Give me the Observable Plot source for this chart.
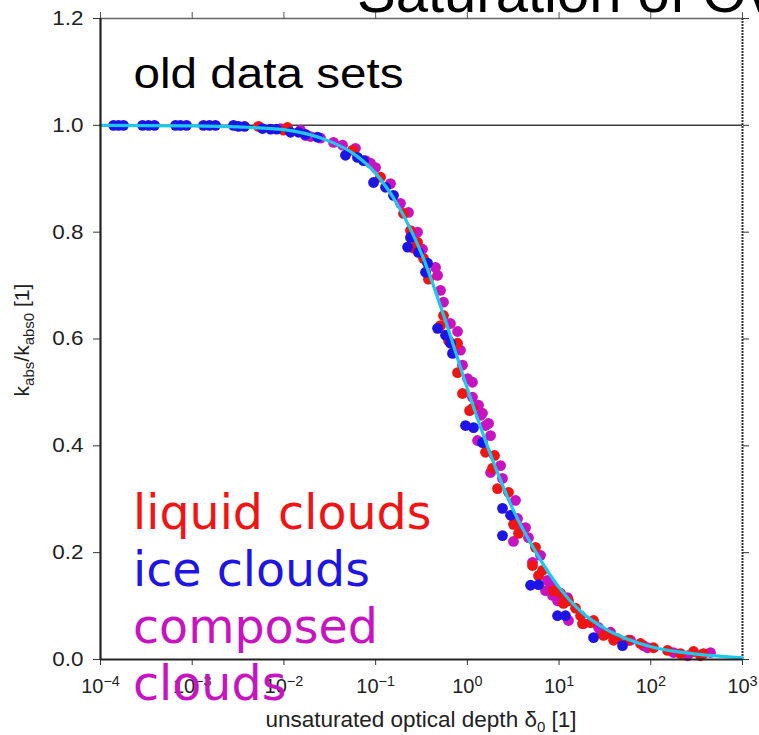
<!DOCTYPE html>
<html>
<head>
<meta charset="utf-8">
<script src="https://cdn.jsdelivr.net/npm/d3@7"></script>
<script src="https://cdn.jsdelivr.net/npm/@observablehq/plot@0.6"></script>
<style>
  body { margin: 0; background: #fff; }
  #chart { width: 759px; height: 735px; overflow: hidden; position: relative; }
  #chart svg { overflow: visible; }
</style>
</head>
<body>
<div id="chart"></div>
<script>
// Optical depths are kept as log10(δ0); ratios are k_abs / k_abs0.
const liquidLogDepth = [-2.277, -2.005, -1.961, -1.252, -0.947, -0.696, -0.620, -0.587, -0.543, -0.478,
  -0.424, -0.260, -0.293, -0.205, -0.107, -0.107, -0.053, 0.024, 0.198, 0.296,
  0.274, 0.329, 0.449, 0.503, 0.558, 0.743, 0.710, 0.820, 0.939, 1.016,
  1.103, 1.179, 1.234, 1.256, 1.343, 1.485, 1.637, 1.757, 1.888, 2.030,
  2.183, 2.324, 2.466, 2.542, 2.575, 0.056, 0.776, 1.528, 1.376, 1.048,
  1.594];
const liquidRatio = [0.998, 0.991, 0.996, 0.953, 0.903, 0.835, 0.803, 0.770, 0.781, 0.751,
  0.712, 0.644, 0.625, 0.597, 0.592, 0.537, 0.498, 0.466, 0.388, 0.382,
  0.358, 0.320, 0.313, 0.253, 0.236, 0.210, 0.176, 0.167, 0.129, 0.124,
  0.110, 0.096, 0.082, 0.067, 0.069, 0.045, 0.039, 0.036, 0.030, 0.022,
  0.017, 0.011, 0.015, 0.007, 0.011, 0.470, 0.157, 0.049, 0.073, 0.105,
  0.036];

const iceLogDepth = [-3.858, -3.804, -3.749, -3.542, -3.477, -3.411, -3.182, -3.128, -3.062, -2.877,
  -2.811, -2.746, -2.550, -2.495, -2.430, -2.234, -2.146, -2.081, -1.928, -1.841,
  -1.634, -1.329, -1.198, -1.132, -1.023, -0.892, -0.805, -0.652, -0.620, -0.533,
  -0.434, -0.456, -0.325, -0.238, -0.184, -0.162, -0.020, 0.067, 0.165, 0.383,
  0.471, 0.383, 0.689, 0.776, 0.983, 1.070, 1.376, 1.692, -1.765];
const iceRatio = [1.000, 1.000, 1.000, 1.000, 1.000, 1.000, 1.000, 1.000, 1.000, 1.000,
  1.000, 1.000, 1.000, 0.998, 0.998, 0.994, 0.993, 0.993, 0.987, 0.987,
  0.978, 0.944, 0.940, 0.934, 0.893, 0.884, 0.869, 0.772, 0.790, 0.762,
  0.742, 0.725, 0.620, 0.607, 0.592, 0.573, 0.438, 0.434, 0.406, 0.283,
  0.270, 0.232, 0.139, 0.140, 0.082, 0.082, 0.041, 0.026, 0.983];

const composedLogDepth = [-2.037, -1.819, -1.765, -1.601, -1.459, -1.361, -1.220, -1.056, -1.001, -0.838,
  -0.729, -0.642, -0.543, -0.489, -0.347, -0.325, -0.293, -0.260, -0.184, -0.107,
  -0.075, -0.053, 0.002, 0.056, 0.056, 0.122, 0.143, 0.198, 0.111, 0.231,
  0.253, 0.362, 0.253, 0.383, 0.525, 0.547, 0.580, 0.503, 0.667, 0.798,
  0.710, 0.874, 0.907, 0.852, 0.929, 0.983, 1.092, 1.103, 1.267, 1.430,
  1.561, 1.779, 1.921, 1.964, 2.248, 2.401, 2.651, 0.634, 0.165, 1.452,
  0.939, -1.110, -1.710];
const composedRatio = [0.994, 0.991, 0.981, 0.976, 0.968, 0.963, 0.957, 0.929, 0.921, 0.891,
  0.854, 0.837, 0.800, 0.768, 0.734, 0.719, 0.691, 0.669, 0.629, 0.614,
  0.579, 0.551, 0.526, 0.519, 0.491, 0.476, 0.457, 0.438, 0.410, 0.442,
  0.419, 0.363, 0.350, 0.339, 0.298, 0.264, 0.247, 0.221, 0.228, 0.195,
  0.182, 0.148, 0.142, 0.129, 0.120, 0.110, 0.116, 0.073, 0.067, 0.060,
  0.051, 0.036, 0.026, 0.022, 0.013, 0.007, 0.013, 0.247, 0.461, 0.054,
  0.124, 0.934, 0.979];

// Fitted saturation curve
const fitLogDepth = [-4.0, -3.0, -2.5, -2.0, -1.75, -1.5, -1.25, -1.0, -0.75, -0.5,
  -0.25, 0.0, 0.25, 0.5, 0.75, 1.0, 1.25, 1.5, 1.75, 2.0,
  2.5, 3.0];
const fitRatio = [1.000, 0.999, 0.997, 0.992, 0.984, 0.970, 0.948, 0.910, 0.848, 0.760,
  0.640, 0.507, 0.385, 0.280, 0.200, 0.135, 0.088, 0.058, 0.038, 0.024,
  0.010, 0.003];

const xTickExponents = [-4, -3, -2, -1, 0, 1, 2, 3];
const yTicks = [0, 0.2, 0.4, 0.6, 0.8, 1.0, 1.2];
const legendLabels = ["liquid clouds", "ice clouds", "composed", "clouds"];

const rows = (logs, vals) => logs.map((l, i) => ({depth: Math.pow(10, l), ratio: vals[i]}));
const liquid = rows(liquidLogDepth, liquidRatio);
const ice = rows(iceLogDepth, iceRatio);
const composed = rows(composedLogDepth, composedRatio);
const fit = rows(fitLogDepth, fitRatio);
const xTicks = xTickExponents.map(e => Math.pow(10, e));
const expOf = d => Math.round(Math.log10(d));

const RED = "#f01414", BLUE = "#1e14e6", MAGENTA = "#c814c0", CYAN = "#1ec8ec";
const SANS = "'Liberation Sans', Arial, sans-serif";

const chart = Plot.plot({
  width: 759,
  height: 735,
  marginTop: 18,
  marginRight: 17,
  marginBottom: 76,
  marginLeft: 100,
  style: {background: "#fff", fontFamily: SANS, fontSize: "19px", color: "#222"},
  x: {type: "log", domain: [1e-4, 1e3]},
  y: {domain: [0, 1.2]},
  marks: [
    Plot.ruleY([1.2], {stroke: "#666", strokeWidth: 1.5}),
    Plot.ruleY([1], {stroke: "#3c3c3c", strokeWidth: 1.5}),
    Plot.ruleX([1e3], {stroke: "#333", strokeWidth: 2, strokeDasharray: "2 1"}),
    Plot.dot(composed, {x: "depth", y: "ratio", r: 5.4, fill: MAGENTA}),
    Plot.dot(liquid, {x: "depth", y: "ratio", r: 5.4, fill: RED}),
    Plot.dot(ice, {x: "depth", y: "ratio", r: 5.4, fill: BLUE}),
    Plot.line(fit, {x: "depth", y: "ratio", stroke: CYAN, strokeWidth: 3.2, curve: "monotone-x"}),
    Plot.axisY(yTicks, {tickSize: 7, tickPadding: 10, tickFormat: d3.format(".1f"), label: null, stroke: "#333", fontSize: 20}),
    Plot.axisY(yTicks, {anchor: "right", tickSize: 6, tickFormat: () => "", label: null, stroke: "#333"}),
    Plot.axisX(xTicks, {tickSize: 6, tickPadding: 13, tickFormat: d => "10^" + expOf(d), label: null, stroke: "#333", fontSize: 20}),
    Plot.axisX(xTicks, {anchor: "top", tickSize: 7, tickFormat: () => "", label: null, stroke: "#555"}),
    Plot.ruleX([1e-4], {stroke: "#222", strokeWidth: 2.2}),
    Plot.ruleY([0], {stroke: "#222", strokeWidth: 2.2}),
    Plot.text(["old data sets"], {frameAnchor: "top-left", dx: 33, dy: 69, lineAnchor: "bottom", textAnchor: "start",
      fontSize: 42, fill: "#000", fontFamily: SANS})
  ]
});

document.getElementById("chart").append(chart);

const svg = d3.select(chart.tagName.toLowerCase() === "svg" ? chart : chart.querySelector("svg"));

// Wider set type for the annotation and the y tick labels
svg.selectAll("g[aria-label='text'] text").each(function () {
  if (this.textContent === "old data sets") {
    this.setAttribute("textLength", 270);
    this.setAttribute("lengthAdjust", "spacingAndGlyphs");
  }
});
svg.selectAll("g[aria-label='y-axis tick label'] text").each(function () {
  const w = this.getComputedTextLength();
  if (w > 0) {
    this.setAttribute("textLength", (w * 1.12).toFixed(1));
    this.setAttribute("lengthAdjust", "spacingAndGlyphs");
  }
});

// Power-of-ten tick labels with raised exponents
svg.selectAll("g[aria-label='x-axis tick label'] text").each(function () {
  const parts = this.textContent.split("^");
  if (parts.length < 2) return;
  const t = d3.select(this).text("");
  t.append("tspan").text("10");
  t.append("tspan").attr("dy", "-0.45em").attr("font-size", "0.72em").text(parts[1].replace("-", "\u2212"));
});

// Title across the top
svg.append("text")
  .attr("x", 357).attr("y", 12)
  .attr("text-anchor", "start")
  .attr("font-family", SANS)
  .attr("font-size", 58).attr("fill", "#000")
  .text("Saturation of Ov");

// y-axis label with subscripts
const yl = svg.append("text")
  .attr("transform", "translate(29,340) rotate(-90)")
  .attr("text-anchor", "middle")
  .attr("font-family", SANS)
  .attr("font-size", 21).attr("fill", "#222");
yl.append("tspan").text("k");
yl.append("tspan").attr("dy", 5).attr("font-size", 15).text("abs");
yl.append("tspan").attr("dy", -5).text("/k");
yl.append("tspan").attr("dy", 5).attr("font-size", 15).text("abs0");
yl.append("tspan").attr("dy", -5).text(" [1]");

// x-axis label with subscript
const xl = svg.append("text")
  .attr("x", 421).attr("y", 727)
  .attr("text-anchor", "middle")
  .attr("font-family", SANS)
  .attr("font-size", 22.5).attr("fill", "#222");
xl.append("tspan").text("unsaturated optical depth \u03b4");
xl.append("tspan").attr("dy", 5).attr("font-size", 15).text("0");
xl.append("tspan").attr("dy", -5).text(" [1]");

// Legend text stacked in the lower left
const legendColors = [RED, BLUE, MAGENTA, MAGENTA];
legendLabels.forEach((label, i) => {
  svg.append("text")
    .attr("x", 133).attr("y", 529 + i * 57)
    .attr("text-anchor", "start")
    .attr("font-family", "'DejaVu Sans', Verdana, sans-serif")
    .attr("font-size", 47.5).attr("fill", legendColors[i])
    .text(label);
});
</script>
</body>
</html>
